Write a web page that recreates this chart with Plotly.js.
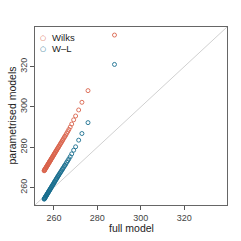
<!DOCTYPE html>
<html><head><meta charset="utf-8">
<script src="https://cdn.plot.ly/plotly-3.0.1.min.js"></script>
<style>html,body{margin:0;padding:0;background:#fff}#c{width:241px;height:241px}</style>
</head><body><div id="c"></div>
<script>
const fullModel = [255.5,255.6,255.7,255.8,255.9,256.0,256.1,256.3,256.4,256.5,256.7,256.8,257.0,257.1,257.3,257.4,257.6,257.8,257.9,258.1,258.3,258.4,258.6,258.8,259.0,259.2,259.4,259.6,259.8,260.0,260.2,260.4,260.6,260.9,261.1,261.3,261.6,261.8,262.1,262.3,262.6,262.9,263.2,263.5,263.8,264.1,264.4,264.8,265.1,265.5,265.9,266.4,266.9,267.5,268.2,269.1,270.0,271.4,272.9,275.7,287.9];
const wilks = [268.3,268.5,268.6,268.8,269.0,269.2,269.4,269.7,269.9,270.1,270.4,270.6,271.0,271.1,271.5,271.7,272.0,272.4,272.6,272.9,273.3,273.4,273.8,274.2,274.5,274.9,275.2,275.6,275.9,276.3,276.7,277.0,277.4,277.9,278.3,278.6,279.2,279.5,280.0,280.4,280.9,281.5,282.0,282.5,283.1,283.6,284.2,284.9,285.4,286.1,286.9,287.8,288.8,290.0,291.5,293.6,295.5,298.5,302.3,308.1,335.7];
const wl = [254.2,254.4,254.5,254.7,254.9,255.1,255.3,255.6,255.8,256.0,256.3,256.5,256.9,257.0,257.4,257.6,257.9,258.3,258.5,258.8,259.2,259.3,259.7,260.1,260.4,260.8,261.1,261.5,261.8,262.2,262.6,262.9,263.3,263.8,264.2,264.5,265.1,265.4,265.9,266.3,266.8,267.3,267.8,268.3,268.9,269.3,269.9,270.6,271.0,271.7,272.5,273.3,274.2,275.3,276.7,278.5,280.2,283.5,286.8,292.2,321.1];
const tickVals = [260,280,300,320];
const axisRange = [251.3,339.7];
const seriesNames = ['Wilks','W\u2013L'];
const xTitle = 'full model', yTitle = 'parametrised models';

const FONT = 'Liberation Sans, Arial, sans-serif';
const colW = '#d9634c', colL = '#1a6e8e';
const mk = c => ({symbol:'circle-open', size:4, color:c, line:{width:0.9, color:c}});
const traces = [
  {x: fullModel, y: wilks, name: seriesNames[0], type:'scatter', mode:'markers', marker:mk(colW)},
  {x: fullModel, y: wl, name: seriesNames[1], type:'scatter', mode:'markers', marker:mk(colL)}
];
const ax = {
  range: axisRange, tickvals: tickVals, ticks:'outside', ticklen:4, tickcolor:'#555',
  showline:true, linecolor:'#666', linewidth:1, mirror:true, showgrid:false, zeroline:false,
  tickfont:{family:FONT, size:9, color:'#444'}
};
const legendColors = [colW, colL];
const annotations = [];
seriesNames.forEach((n,i) => {
  const yy = 0.94 - i*0.062;
  annotations.push({xref:'paper', yref:'paper', x:0.04, y:yy, xanchor:'center', yanchor:'middle',
    text:'\u25CB', showarrow:false, font:{family:'DejaVu Sans', size:7, color:legendColors[i]}});
  annotations.push({xref:'paper', yref:'paper', x:0.08, y:yy, xanchor:'left', yanchor:'middle',
    text:n, showarrow:false, font:{family:FONT, size:9.5, color:'#222'}});
});
annotations.push({xref:'paper', yref:'paper', x:0.5, y:0, xanchor:'center', yanchor:'middle', yshift:-22.5,
  text:xTitle, showarrow:false, font:{family:FONT, size:10.5, color:'#222'}});
annotations.push({xref:'paper', yref:'paper', x:0, y:0.5, xanchor:'center', yanchor:'middle', xshift:-23.5,
  textangle:-90, text:yTitle, showarrow:false, font:{family:FONT, size:10.5, color:'#222'}});
const layout = {
  width:241, height:241, margin:{l:35, r:14, t:27, b:36},
  font:{family:FONT, color:'#222'},
  paper_bgcolor:'#fff', plot_bgcolor:'#fff', showlegend:false,
  annotations: annotations,
  xaxis: Object.assign({}, ax),
  yaxis: Object.assign({}, ax, {tickangle:-90, ticklabelstandoff:-1}),
  shapes:[{type:'line', xref:'x', yref:'y', x0:axisRange[0], y0:axisRange[0], x1:axisRange[1], y1:axisRange[1],
    line:{color:'#d0d0d0', width:1}, layer:'below'}]
};
Plotly.newPlot('c', traces, layout, {staticPlot:true, displayModeBar:false});
</script></body></html>
